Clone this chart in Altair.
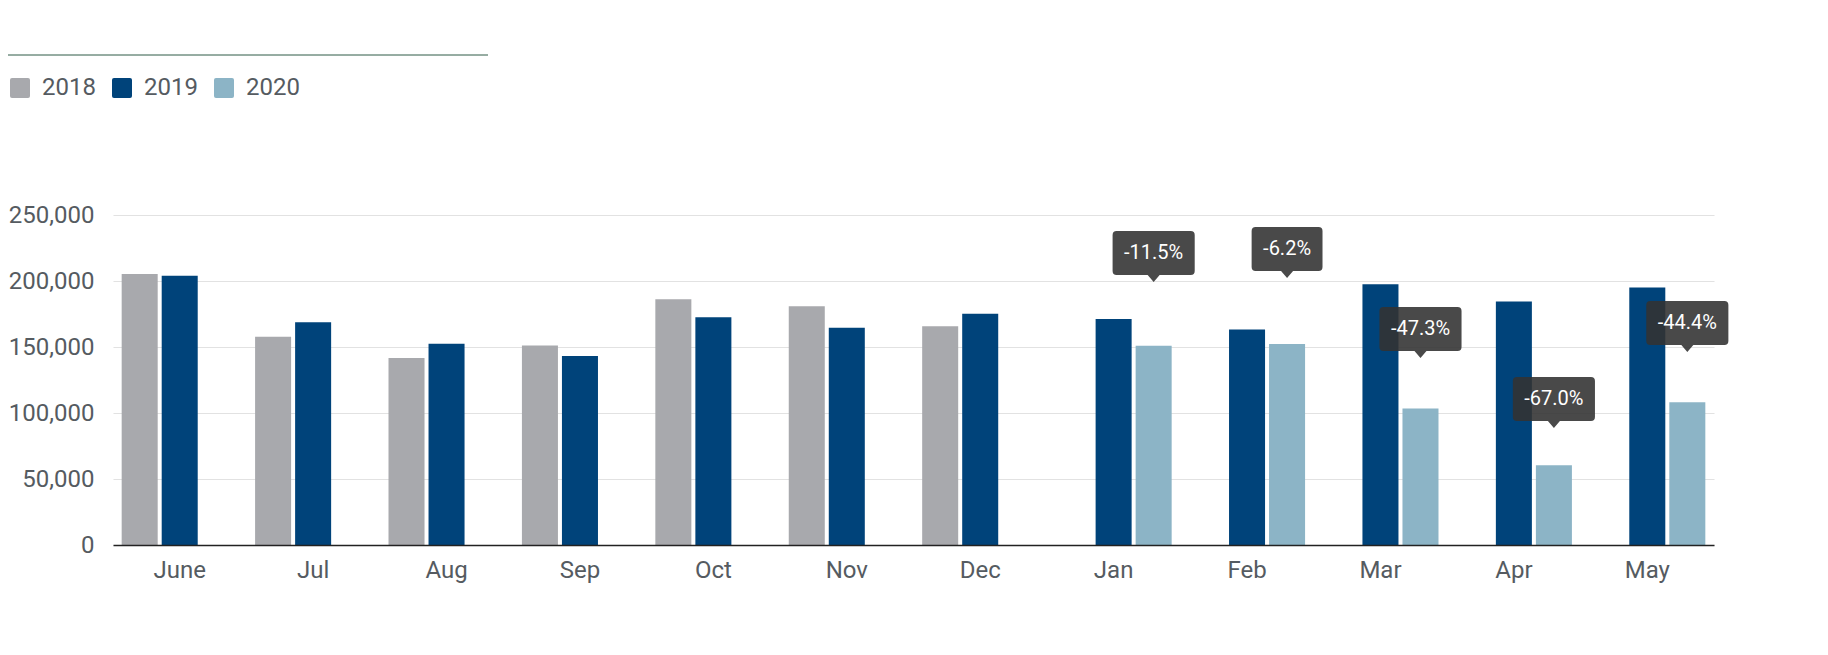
import altair as alt
import pandas as pd

# ---------------- data ----------------
months = ["June", "Jul", "Aug", "Sep", "Oct", "Nov", "Dec", "Jan", "Feb", "Mar", "Apr", "May"]
years = ["2018", "2019", "2020"]
v2018 = [205300, 157800, 141600, 151100, 186100, 180800, 165700, None, None, None, None, None]
v2019 = [204000, 168700, 152500, 143100, 172500, 164600, 175200, 171200, 163300, 197500, 184400, 195000]
v2020 = [None, None, None, None, None, None, None, 151000, 152300, 103500, 60400, 108200]

callout_months = ["Jan", "Feb", "Mar", "Apr", "May"]
callout_labels = ["-11.5%", "-6.2%", "-47.3%", "-67.0%", "-44.4%"]
callout_anchor = [199200, 202300, 141700, 88600, 146200]

y_ticks = [0, 50000, 100000, 150000, 200000, 250000]
colors = ["#a8a9ad", "#00437a", "#8cb4c6"]

# ---------------- frames ----------------
rows = []
for yr, vals in zip(years, [v2018, v2019, v2020]):
    for m, v in zip(months, vals):
        if v is not None:
            rows.append({"month": m, "year": yr, "value": v})
bars_df = pd.DataFrame(rows)

callout_df = pd.DataFrame({
    "month": callout_months,
    "year": ["2020"] * len(callout_months),
    "label": callout_labels,
    "value": callout_anchor,
})

# callout box shape (pointer tip at origin), width from label text width
char_w = {"-": 0.276, ".": 0.263, "%": 0.732}
def box_path(label, fs=20, pad=23, h=44, tip=7, tw=6, r=4):
    w = sum(char_w.get(c, 0.5615) for c in label) * fs + pad
    a = w / 2.0
    t = -tip
    top = -tip - h
    return (f"M0,0 L{-tw},{t} L{-a + r},{t} Q{-a},{t} {-a},{t - r} "
            f"L{-a},{top + r} Q{-a},{top} {-a + r},{top} "
            f"L{a - r},{top} Q{a},{top} {a},{top + r} "
            f"L{a},{t - r} Q{a},{t} {a - r},{t} L{tw},{t} Z")

paths = [box_path(l) for l in callout_labels]

font = "Roboto"
label_color = "#555b61"

x_axis = alt.Axis(title=None, labelAngle=0, domainColor="#222222", domainWidth=1.5,
                  ticks=False, tickSize=0, labelPadding=13, labelFontSize=24,
                  labelColor=label_color, labelFont=font, grid=False, zindex=1)
y_axis = alt.Axis(title=None, values=y_ticks, format=",.0f", domain=False, ticks=False,
                  tickSize=0, labelPadding=19, labelFontSize=24, labelColor=label_color,
                  labelFont=font, gridColor="#e2e2e2", gridWidth=1.2)

x_scale = alt.Scale(domain=months, paddingInner=0.13, paddingOuter=0.065)
xoff_scale = alt.Scale(domain=years, paddingInner=0.1, paddingOuter=0)
y_scale = alt.Scale(domain=[0, 250000], nice=False)

def xe():
    return alt.X("month:N", sort=months, scale=x_scale, axis=x_axis)
def xo():
    return alt.XOffset("year:N", scale=xoff_scale)
def ye():
    return alt.Y("value:Q", scale=y_scale, axis=y_axis)

legend_sym = ("M-1,-0.8 Q-1,-1 -0.8,-1 L0.8,-1 Q1,-1 1,-0.8 L1,0.8 Q1,1 0.8,1 "
              "L-0.8,1 Q-1,1 -1,0.8 Z")

bars = alt.Chart(bars_df).mark_bar().encode(
    x=xe(),
    xOffset=xo(),
    y=ye(),
    color=alt.Color("year:N", scale=alt.Scale(domain=years, range=colors),
                    legend=alt.Legend(title=None, orient="none", legendX=-105, legendY=-139,
                                      direction="horizontal", symbolType=legend_sym,
                                      symbolSize=400, symbolStrokeWidth=0, symbolOpacity=1,
                                      labelFontSize=24, labelColor=label_color, labelFont=font,
                                      labelOffset=10, columnPadding=14, padding=0)),
)

boxes = alt.Chart(callout_df).mark_point(filled=True, size=4, color="#333333",
                                         opacity=0.89, strokeWidth=0).encode(
    x=xe(),
    xOffset=xo(),
    y=ye(),
    shape=alt.Shape("label:N", scale=alt.Scale(domain=callout_labels, range=paths), legend=None),
)

texts = alt.Chart(callout_df).mark_text(dy=-29, baseline="middle", align="center",
                                        color="white", fontSize=20, font=font).encode(
    x=xe(),
    xOffset=xo(),
    y=ye(),
    text="label:N",
)

top_rule = alt.Chart(pd.DataFrame({"k": [0]})).mark_rule(color="#2f5a46", strokeWidth=1).encode(
    x=alt.value(-105), x2=alt.value(375), y=alt.value(-160)
)

chart = alt.layer(bars, boxes, texts, top_rule).properties(
    width=1601, height=330,
    padding={"left": 105, "top": 207, "right": 106, "bottom": 102},
    autosize=alt.AutoSizeParams(type="none"),
).configure(font=font).configure_view(stroke=None)

chart.save("out.html", embed_options={"renderer": "svg", "actions": False})
